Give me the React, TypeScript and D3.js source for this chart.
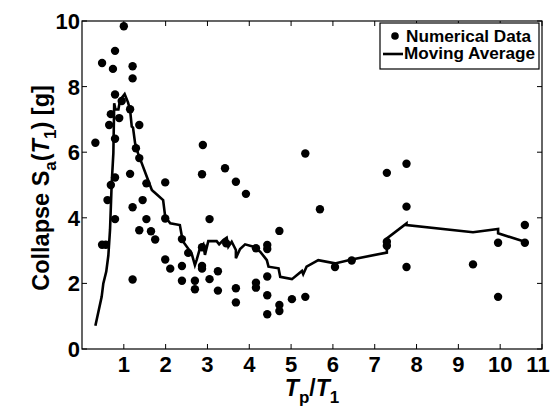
import React, { useEffect, useRef } from "react";
import * as d3 from "d3";

// numerical data points (Tp/T1, collapse Sa)
const dataX = [
  1.0, 0.48, 0.79, 0.74, 1.21, 1.21, 0.79, 0.95, 1.15, 0.69, 0.89, 0.65, 1.37, 0.79, 0.32,
  2.89, 1.29, 1.37, 1.15, 2.87, 3.42, 0.79, 0.69, 1.54, 1.99, 0.61, 1.45, 1.21, 0.79, 1.54,
  1.99, 3.05, 1.37, 1.65, 1.75, 0.48, 0.57, 2.39, 2.54, 2.87, 1.99, 2.11, 2.39, 2.87, 2.87,
  3.25, 1.21, 2.39, 2.7, 3.05, 2.7, 3.25, 3.68, 3.92, 5.34, 5.69, 4.72, 7.29, 3.45, 4.16,
  4.43, 4.43, 4.43, 4.16, 4.16, 3.68, 3.68, 4.43, 4.72, 4.72, 4.43, 5.02, 5.34, 6.05, 6.45,
  7.29, 7.29, 7.76, 7.76, 7.76, 9.35, 9.95, 9.95, 10.59, 10.59,
];
const dataY = [
  9.84, 8.72, 9.09, 8.54, 8.62, 8.25, 7.76, 7.56, 7.31, 7.16, 7.04, 6.83, 6.83, 6.41, 6.29,
  6.22, 6.12, 5.82, 5.34, 5.33, 5.51, 5.23, 5.0, 5.05, 5.08, 4.54, 4.54, 4.32, 3.96, 3.96,
  3.98, 3.96, 3.62, 3.59, 3.34, 3.18, 3.18, 3.35, 2.93, 3.1, 2.73, 2.45, 2.53, 2.53, 2.45,
  2.37, 2.12, 2.08, 2.08, 2.13, 1.82, 1.78, 5.1, 4.73, 5.96, 4.26, 3.6, 5.37, 3.22, 3.07,
  3.17, 3.05, 2.21, 2.02, 1.87, 1.85, 1.42, 1.64, 1.34, 1.16, 1.06, 1.52, 1.59, 2.5, 2.7,
  3.27, 3.15, 5.65, 4.34, 2.5, 2.58, 3.24, 1.59, 3.78, 3.24,
];

// moving average curve
const avgX = [
  0.32, 0.47, 0.51, 0.58, 0.63, 0.67, 0.71, 0.75, 0.77, 0.8, 0.87, 0.91, 1.02, 1.1, 1.15,
  1.19, 1.22, 1.27, 1.31, 1.43, 1.55, 1.67, 1.71, 1.94, 1.99, 2.11, 2.34, 2.39, 2.42, 2.62,
  2.7, 2.74, 2.82, 2.9, 2.94, 3.02, 3.22, 3.28, 3.38, 3.46, 3.5, 3.58, 3.68, 3.68, 3.78,
  3.9, 4.1, 4.26, 4.42, 4.46, 4.7, 4.74, 5.02, 5.26, 5.29, 5.37, 5.65, 6.05, 6.45, 7.29,
  7.29, 7.76, 7.76, 9.35, 9.95, 9.95, 10.59,
];
const avgY = [
  0.71, 1.59, 2.0, 2.36, 2.85, 3.63, 5.05, 5.97, 7.49, 7.3, 7.3, 7.59, 7.77, 7.52, 7.29,
  6.78, 6.75, 6.27, 6.07, 5.66, 5.25, 4.85, 4.8, 4.54, 4.03, 3.83, 3.78, 3.42, 3.27, 2.92,
  2.56, 2.71, 3.07, 3.19, 2.87, 3.29, 3.29, 3.19, 3.32, 3.39, 3.12, 3.27, 3.02, 2.77, 3.05,
  3.19, 3.12, 2.97, 2.71, 2.51, 2.46, 2.2, 2.13, 2.38, 2.28, 2.51, 2.71, 2.61, 2.73, 2.94,
  3.37, 3.83, 3.78, 3.56, 3.66, 3.53, 3.27,
];

const xTicks = [1, 2, 3, 4, 5, 6, 7, 8, 9, 10, 11];
const yTicks = [0, 2, 4, 6, 8, 10];

export default function App() {
  const ref = useRef<SVGSVGElement | null>(null);

  useEffect(() => {
    if (!ref.current) return;
    const svg = d3.select(ref.current);
    svg.selectAll("*").remove();

    const left = 82, right = 542, top = 21, bottom = 349;
    const font = "Liberation Sans, Arial, Helvetica, sans-serif";

    const x = d3.scaleLinear().domain([0, 11]).range([left, right]);
    const y = d3.scaleLinear().domain([0, 10]).range([bottom, top]);

    svg.append("rect").attr("width", 552).attr("height", 410).attr("fill", "white");

    // moving average
    const pts = avgX.map((v, i) => [v, avgY[i]] as [number, number]);
    const line = d3.line<[number, number]>().x((d) => x(d[0])).y((d) => y(d[1]));
    svg
      .append("path")
      .attr("d", line(pts))
      .attr("fill", "none")
      .attr("stroke", "black")
      .attr("stroke-width", 2.6)
      .attr("stroke-linejoin", "miter");

    // points
    svg
      .append("g")
      .selectAll("circle")
      .data(dataX.map((v, i) => [v, dataY[i]]))
      .enter()
      .append("circle")
      .attr("cx", (d) => x(d[0]))
      .attr("cy", (d) => y(d[1]))
      .attr("r", 4.2)
      .attr("fill", "black");

    // frame
    svg
      .append("rect")
      .attr("x", left)
      .attr("y", top)
      .attr("width", right - left)
      .attr("height", bottom - top)
      .attr("fill", "none")
      .attr("stroke", "black")
      .attr("stroke-width", 1.2);

    const tl = 5;
    const ticks = svg.append("g").attr("stroke", "black").attr("stroke-width", 1);
    xTicks.forEach((t) => {
      ticks.append("line").attr("x1", x(t)).attr("x2", x(t)).attr("y1", bottom).attr("y2", bottom - tl);
      ticks.append("line").attr("x1", x(t)).attr("x2", x(t)).attr("y1", top).attr("y2", top + tl);
    });
    yTicks.forEach((t) => {
      ticks.append("line").attr("x1", left).attr("x2", left + tl).attr("y1", y(t)).attr("y2", y(t));
      ticks.append("line").attr("x1", right).attr("x2", right - tl).attr("y1", y(t)).attr("y2", y(t));
    });

    svg
      .append("g")
      .selectAll("text")
      .data(xTicks)
      .enter()
      .append("text")
      .attr("x", (d) => Math.min(x(d), 538))
      .attr("y", 372)
      .attr("text-anchor", "middle")
      .style("font-family", font)
      .attr("font-weight", "bold")
      .attr("font-size", 22)
      .text((d) => d);

    svg
      .append("g")
      .selectAll("text")
      .data(yTicks)
      .enter()
      .append("text")
      .attr("x", 80)
      .attr("y", (d) => y(d) + 8)
      .attr("text-anchor", "end")
      .style("font-family", font)
      .attr("font-weight", "bold")
      .attr("font-size", 22)
      .text((d) => d);

    // x label
    const xl = svg
      .append("text")
      .attr("x", 312)
      .attr("y", 396)
      .attr("text-anchor", "middle")
      .style("font-family", font)
      .attr("font-weight", "bold")
      .attr("font-size", 23);
    xl.append("tspan").attr("font-style", "italic").text("T");
    xl.append("tspan").attr("font-size", 17).attr("dy", 7).text("p");
    xl.append("tspan").attr("dy", -7).text("/");
    xl.append("tspan").attr("font-style", "italic").text("T");
    xl.append("tspan").attr("font-size", 17).attr("dy", 7).text("1");

    // y label
    const yl = svg
      .append("text")
      .attr("transform", "translate(49,188) rotate(-90)")
      .attr("text-anchor", "middle")
      .style("font-family", font)
      .attr("font-weight", "bold")
      .attr("font-size", 23.5);
    yl.append("tspan").text("Collapse S");
    yl.append("tspan").attr("font-size", 17).attr("dy", 7).text("a");
    yl.append("tspan").attr("dy", -7).text("(");
    yl.append("tspan").attr("font-style", "italic").text("T");
    yl.append("tspan").attr("font-size", 17).attr("dy", 7).text("1");
    yl.append("tspan").attr("dy", -7).text(") [g]");

    // legend
    const lg = svg.append("g");
    lg.append("rect")
      .attr("x", 380)
      .attr("y", 23)
      .attr("width", 159)
      .attr("height", 46)
      .attr("fill", "white")
      .attr("stroke", "black")
      .attr("stroke-width", 1.2);
    lg.append("circle").attr("cx", 395).attr("cy", 36).attr("r", 3.8).attr("fill", "black");
    lg.append("line")
      .attr("x1", 383)
      .attr("x2", 403)
      .attr("y1", 54)
      .attr("y2", 54)
      .attr("stroke", "black")
      .attr("stroke-width", 2.6);
    lg.append("text")
      .attr("x", 406)
      .attr("y", 42)
      .style("font-family", font)
      .attr("font-weight", "bold")
      .attr("font-size", 16)
      .attr("textLength", 125)
      .attr("lengthAdjust", "spacingAndGlyphs")
      .text("Numerical Data");
    lg.append("text")
      .attr("x", 404)
      .attr("y", 59)
      .style("font-family", font)
      .attr("font-weight", "bold")
      .attr("font-size", 16)
      .attr("textLength", 131)
      .attr("lengthAdjust", "spacingAndGlyphs")
      .text("Moving Average");
  }, []);

  return (
    <svg
      ref={ref}
      width={552}
      height={410}
      style={{ position: "absolute", left: 0, top: 0, display: "block" }}
    />
  );
}
